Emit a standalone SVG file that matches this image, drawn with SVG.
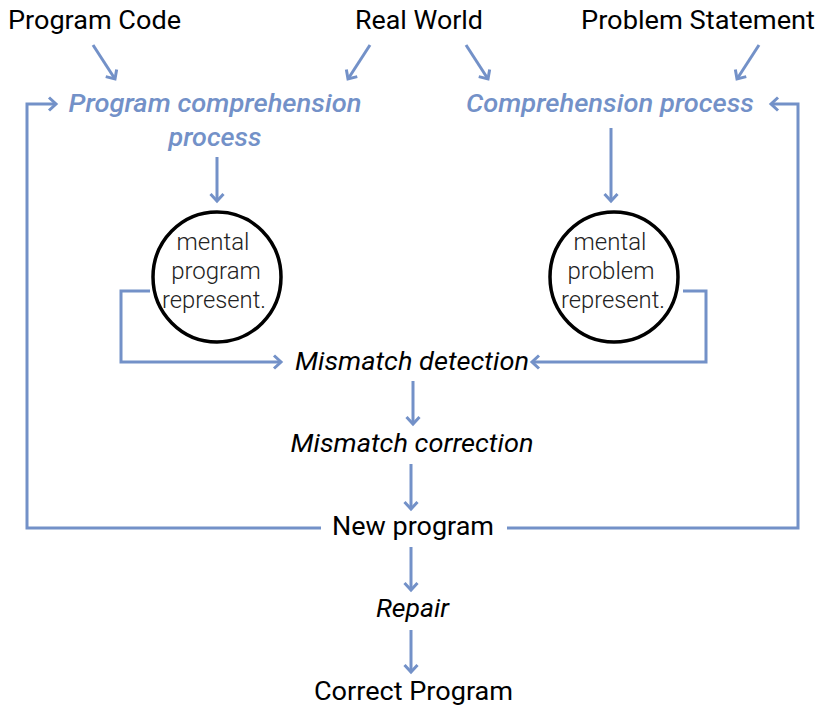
<svg xmlns="http://www.w3.org/2000/svg" width="822" height="708" viewBox="0 0 822 708">
<defs>
<marker id="ah" markerUnits="userSpaceOnUse" markerWidth="20" markerHeight="20" viewBox="-10 -10 20 20" refX="0" refY="0" orient="auto">
<path d="M-7,-6.5 L0,0 L-7,6.5" fill="none" stroke="#7391C8" stroke-width="3"/>
</marker>
</defs>
<style>
.t{font-family:Roboto,"Liberation Sans",sans-serif;font-size:25px;fill:#000;text-anchor:middle}
.b{font-family:Roboto,"Liberation Sans",sans-serif;font-size:25px;fill:#7391C8;font-style:italic;font-weight:500;text-anchor:middle}
.i{font-family:Roboto,"Liberation Sans",sans-serif;font-size:25px;fill:#000;font-style:italic;text-anchor:middle}
.m{font-family:Roboto,"Liberation Sans",sans-serif;font-size:24px;fill:#222;font-weight:300;text-anchor:middle}
.c{fill:#fff;stroke:#000;stroke-width:3.5}
.e{fill:none;stroke:#7391C8;stroke-width:3}
.a{marker-end:url(#ah)}
</style>
<rect width="822" height="708" fill="#fff"/>
<g id="connectors">
<line class="e a" x1="93" y1="45" x2="115" y2="79"/>
<line class="e a" x1="370" y1="45" x2="348" y2="79"/>
<line class="e a" x1="466" y1="45" x2="488" y2="79"/>
<line class="e a" x1="759" y1="45" x2="737" y2="79"/>
<line class="e a" x1="217" y1="157" x2="217" y2="201"/>
<line class="e a" x1="611" y1="128" x2="611" y2="201"/>
<polyline class="e a" points="150,291 121,291 121,362 281,362"/>
<polyline class="e a" points="683,291 706,291 706,362 532,362"/>
<line class="e a" x1="413" y1="381" x2="413" y2="424"/>
<line class="e a" x1="411" y1="464" x2="411" y2="509"/>
<line class="e a" x1="411" y1="547" x2="411" y2="590"/>
<line class="e a" x1="411" y1="630" x2="411" y2="672"/>
<polyline class="e a" points="321,528 27,528 27,104 56,104"/>
<polyline class="e a" points="507,528 798,528 798,104 771,104"/>
</g>
<g id="program-code"><text class="t" x="94.5" y="29" textLength="173" lengthAdjust="spacingAndGlyphs">Program Code</text></g>
<g id="real-world"><text class="t" x="419" y="29" textLength="128" lengthAdjust="spacingAndGlyphs">Real World</text></g>
<g id="problem-statement"><text class="t" x="698" y="29" textLength="234" lengthAdjust="spacingAndGlyphs">Problem Statement</text></g>
<g id="program-comprehension"><text class="b" x="215" y="112" textLength="293" lengthAdjust="spacingAndGlyphs">Program comprehension</text><text class="b" x="215" y="146" textLength="93" lengthAdjust="spacingAndGlyphs">process</text></g>
<g id="comprehension"><text class="b" x="610" y="112" textLength="288" lengthAdjust="spacingAndGlyphs">Comprehension process</text></g>
<g id="mental-program"><ellipse class="c" cx="217" cy="277" rx="64" ry="65"/><text class="m" x="213" y="250">mental</text><text class="m" x="216" y="279">program</text><text class="m" x="214" y="308" textLength="104" lengthAdjust="spacingAndGlyphs">represent.</text></g>
<g id="mental-problem"><ellipse class="c" cx="614" cy="277" rx="64" ry="65"/><text class="m" x="610" y="250">mental</text><text class="m" x="611" y="279">problem</text><text class="m" x="613" y="308" textLength="104" lengthAdjust="spacingAndGlyphs">represent.</text></g>
<g id="mismatch-detection"><text class="i" x="412" y="370" textLength="234" lengthAdjust="spacingAndGlyphs">Mismatch detection</text></g>
<g id="mismatch-correction"><text class="i" x="412" y="452" textLength="243" lengthAdjust="spacingAndGlyphs">Mismatch correction</text></g>
<g id="new-program"><text class="t" x="413" y="535" textLength="162" lengthAdjust="spacingAndGlyphs">New program</text></g>
<g id="repair"><text class="i" x="412.5" y="617" textLength="73" lengthAdjust="spacingAndGlyphs">Repair</text></g>
<g id="correct-program"><text class="t" x="413.5" y="700" textLength="199" lengthAdjust="spacingAndGlyphs">Correct Program</text></g>
</svg>
